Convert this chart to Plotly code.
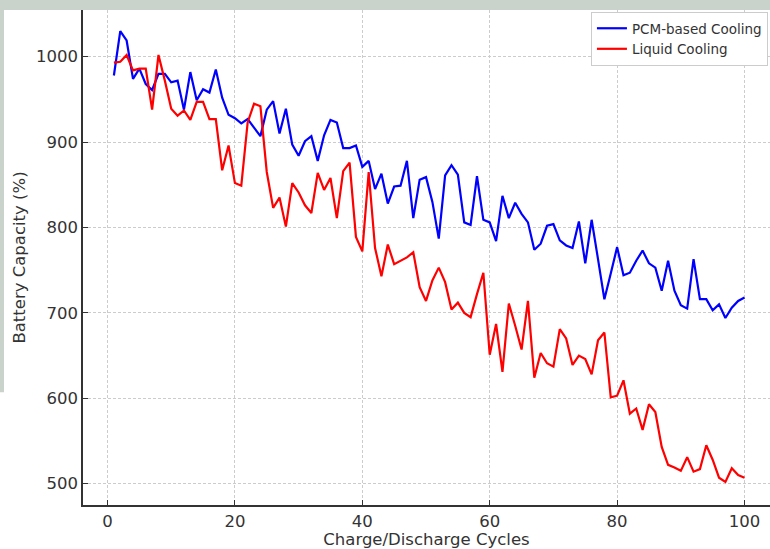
import plotly.graph_objects as go

cycles = list(range(1, 101))

pcm_cooling = [
    978, 1030, 1019, 974, 986, 968, 961, 980, 980, 970,
    972, 938, 982, 949, 962, 958, 985, 952, 932, 928,
    922, 927, 917, 907, 938, 948, 910, 939, 897, 884,
    901, 907, 878, 908, 926, 923, 893, 893, 896, 871,
    878, 845, 863, 828, 848, 849, 878, 811, 856, 859,
    830, 787, 861, 873, 862, 806, 803, 860, 809, 806,
    784, 837, 811, 829, 816, 806, 774, 781, 802, 804,
    785, 779, 776, 807, 758, 809, 763, 716, 746, 777,
    744, 747, 761, 773, 758, 753, 726, 761, 726, 709,
    705, 763, 716, 716, 703, 710, 694, 706, 714, 718,
]

liquid_cooling = [
    993, 994, 1002, 984, 986, 986, 938, 1002, 972, 939,
    931, 937, 926, 947, 947, 927, 927, 867, 896, 852,
    849, 923, 945, 942, 865, 823, 835, 801, 852, 841,
    826, 817, 864, 844, 858, 811, 866, 876, 789, 772,
    865, 776, 743, 780, 757, 761, 765, 771, 730, 714,
    738, 753, 736, 704, 712, 700, 695, 722, 747, 651,
    687, 631, 711, 685, 657, 714, 624, 653, 641, 637,
    681, 670, 639, 650, 646, 628, 668, 677, 601, 603,
    621, 582, 588, 563, 593, 584, 543, 522, 519, 515,
    531, 514, 517, 545, 528, 507, 502, 518, 510, 507,
]

x_ticks = [0, 20, 40, 60, 80, 100]
y_ticks = [500, 600, 700, 800, 900, 1000]

font_family = "DejaVu Sans"
text_color = "#333333"

fig = go.Figure()
fig.add_trace(go.Scatter(
    x=cycles, y=pcm_cooling, mode="lines", name="PCM-based Cooling",
    line=dict(color="#0000ff", width=2.2),
))
fig.add_trace(go.Scatter(
    x=cycles, y=liquid_cooling, mode="lines", name="Liquid Cooling",
    line=dict(color="#ff0000", width=2.2),
))

bg_green = "#c9d3cc"
shapes = [
    dict(type="rect", xref="paper", yref="paper", x0=-0.125, x1=1.0,
         y0=1.0, y1=1.03, fillcolor=bg_green, line=dict(width=0), layer="below"),
    dict(type="rect", xref="paper", yref="paper", x0=-0.125, x1=-0.115,
         y0=0.228, y1=1.0, fillcolor=bg_green, line=dict(width=0), layer="below"),
]

fig.update_layout(
    width=770, height=549,
    margin=dict(l=83, r=0, t=10, b=44),
    paper_bgcolor="white", plot_bgcolor="white",
    font=dict(family=font_family, color=text_color, size=16),
    shapes=shapes,
    showlegend=True,
    legend=dict(
        x=0.997, y=0.996, xanchor="right", yanchor="top",
        bgcolor="white", bordercolor="#cccccc", borderwidth=1,
        font=dict(size=13.5, color=text_color),
        itemwidth=30, tracegroupgap=0,
    ),
    xaxis=dict(
        range=[-3.85, 104.0],
        tickvals=x_ticks, ticktext=[str(v) for v in x_ticks],
        showline=True, linecolor="#333333", linewidth=1.6,
        ticks="inside", ticklen=5, tickcolor="#333333", tickwidth=1.2,
        showgrid=True, gridcolor="#cccccc", gridwidth=0.8, griddash="3px,2px",
        zeroline=False, mirror=False,
        tickfont=dict(size=16.5, color=text_color),
        title=dict(text="Charge/Discharge Cycles", font=dict(size=16.5, color=text_color), standoff=8),
    ),
    yaxis=dict(
        range=[475, 1054.7],
        tickvals=y_ticks, ticktext=[str(v) for v in y_ticks],
        showline=True, linecolor="#333333", linewidth=1.6,
        ticks="inside", ticklen=5, tickcolor="#333333", tickwidth=1.2,
        showgrid=True, gridcolor="#cccccc", gridwidth=0.8, griddash="3px,2px",
        zeroline=False, mirror=False,
        tickfont=dict(size=16.5, color=text_color),
        title=dict(text="Battery Capacity (%)", font=dict(size=16.5, color=text_color), standoff=6),
    ),
)

fig.write_html(
    "out.html",
    config={"displayModeBar": False},
    post_script="document.body.style.margin='0';document.body.style.overflow='hidden';",
)
